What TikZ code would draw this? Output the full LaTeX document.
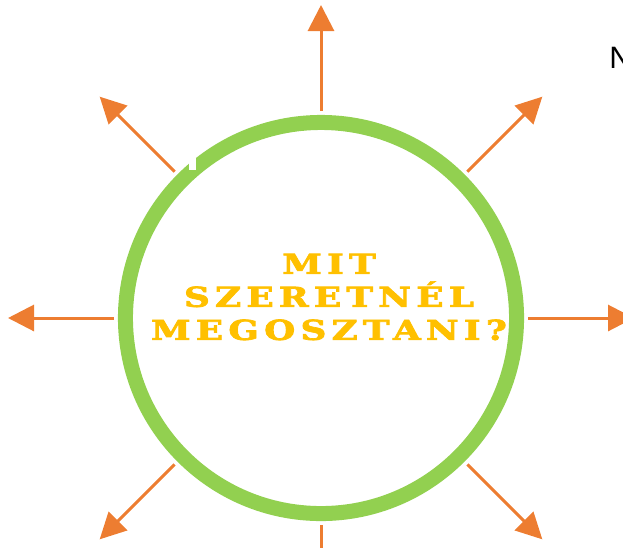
\documentclass[tikz,border=0pt]{standalone}
\usepackage{fontspec}
\newfontfamily\signfont[LetterSpace=15, FakeBold=2.5]{DejaVu Serif Bold}
\newfontfamily\sidefont{Liberation Sans}
\usetikzlibrary{arrows.meta,calc}
\definecolor{leafgreen}{HTML}{92D050}
\definecolor{spokeorange}{HTML}{ED7D31}
\definecolor{signgold}{HTML}{FFC000}

\begin{document}
\begin{tikzpicture}[x=0.025cm, y=-0.025cm,
    ring/.style={circle, draw=leafgreen, line width=0.375cm, minimum size=9.775cm, inner sep=0pt},
    spoke/.style={spokeorange, line width=0.075cm, -{Triangle[length=0.65cm, width=0.65cm]}},
    sign/.style={align=center, text=signgold, xscale=1.3, font=\signfont\fontsize{19.5}{23.5}\selectfont}]
    \useasboundingbox (0,0) rectangle (623,547);
    \clip (0,0) rectangle (623,547);

    % the ring and its question
    \node[ring] (hub) at (321,318) {};
    \fill[white] (189,158) rectangle (196,170);
    \node[sign] (question) at (329,297) {MIT\\SZERETNÉL\\MEGOSZTANI?};

    % eight spokes round the ring
    \foreach \a in {0,45,...,315} {
        \coordinate (in\a) at ($(hub.center)+(\a:207)$);
        \coordinate (out\a) at ($(hub.center)+(\a:313)$);
        \draw[spoke] (in\a) -- (out\a);
    }

    \node[anchor=west, inner sep=0pt, font=\sidefont\fontsize{22}{24}\selectfont] (edge) at (609,58) {N};
\end{tikzpicture}
\end{document}
